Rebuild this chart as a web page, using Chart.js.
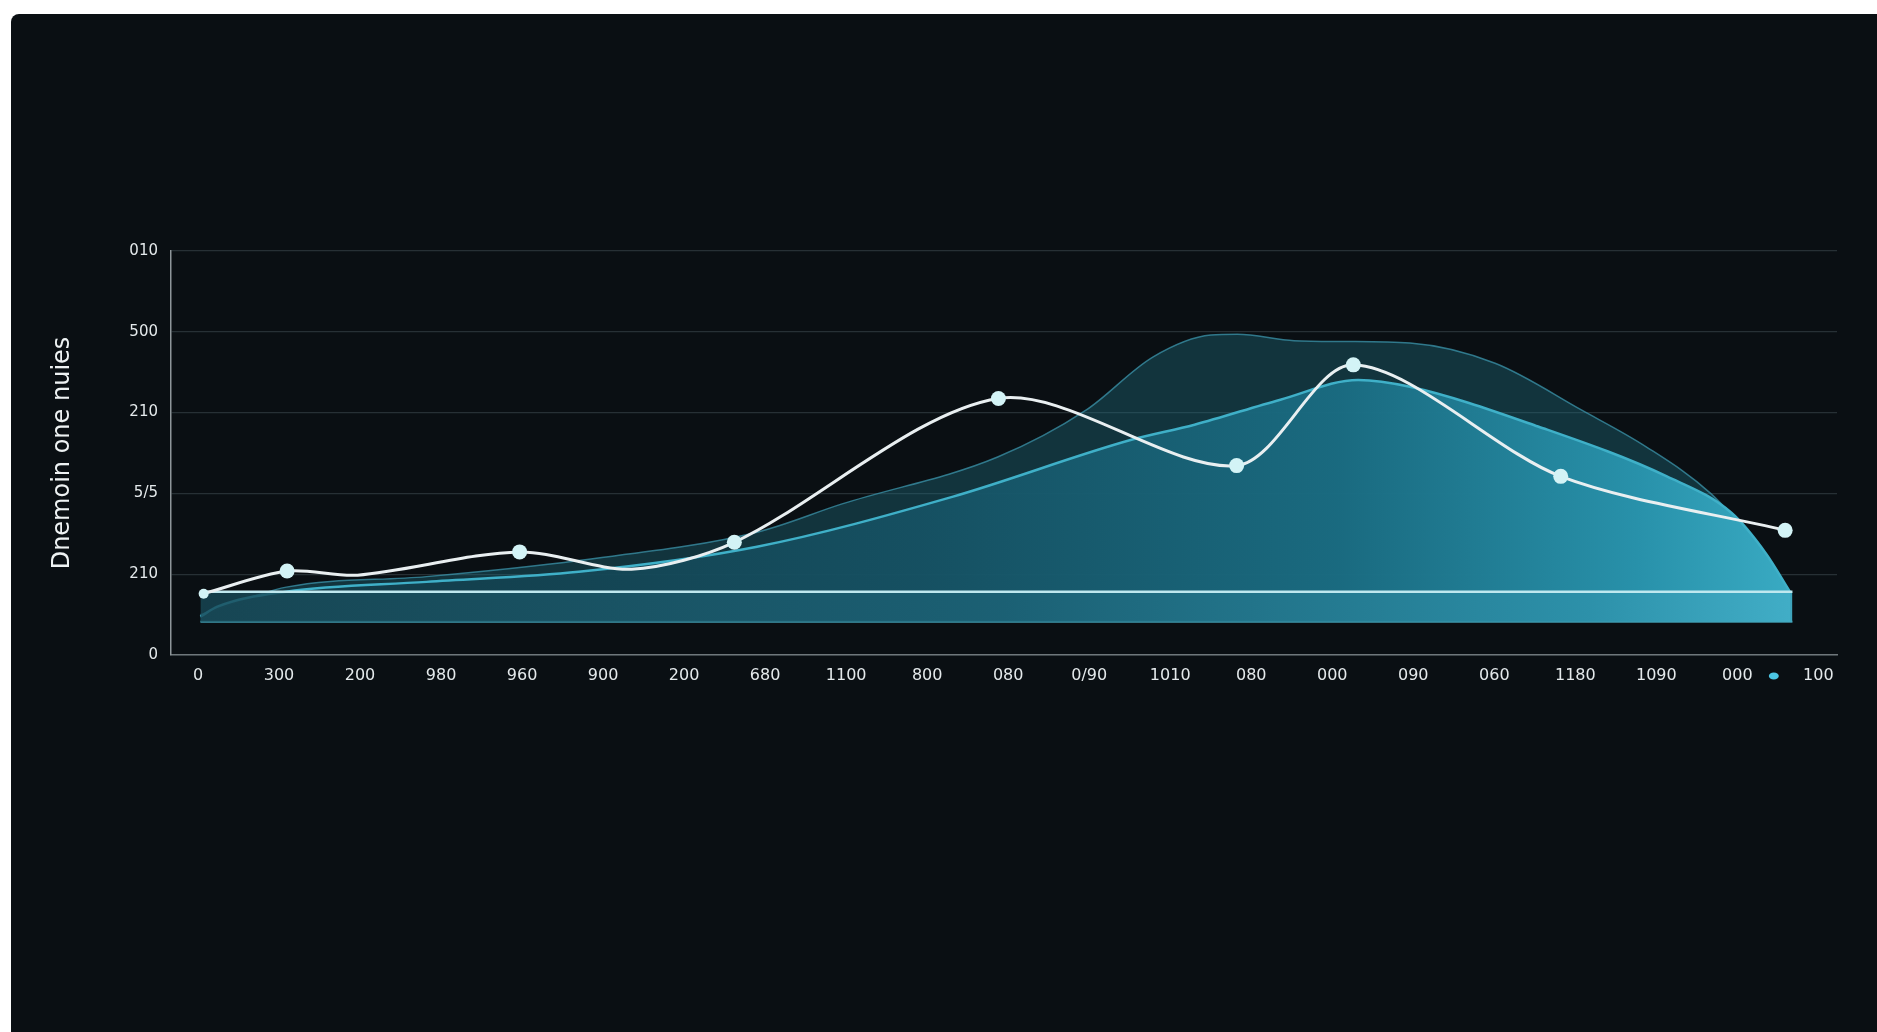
<!DOCTYPE html>
<html>
<head>
<meta charset="utf-8">
<script src="https://cdn.jsdelivr.net/npm/chart.js@4.4.1/dist/chart.umd.min.js"></script>
<style>
  html, body { margin: 0; padding: 0; background: #ffffff; }
  #wrap {
    position: absolute; left: 11px; top: 14px;
    width: 1866px; height: 1018px;
    background: #0a0f13;
    border-top-left-radius: 8px;
  }
</style>
</head>
<body>
<div id="wrap"><canvas id="chart"></canvas></div>
<script>
// tick labels as printed on the picture
var xLabels = ['0', '300', '200', '980', '960', '900', '200', '680', '1100', '800', '080',
               '0/90', '1010', '080', '000', '090', '060', '1180', '1090', '000', '100'];
var yLabels = ['0', '210', '5/5', '210', '500', '010'];
var yTicks = [0, 100, 200, 300, 400, 500];

// white line: points with markers
var markerX = [0.07, 1.10, 3.97, 6.62, 9.88, 12.82, 14.26, 16.82, 19.59];
var markerY = [75.9, 103.9, 127.6, 139.5, 317.5, 234.4, 359.1, 221.1, 154.3];
// white line: bends read between markers (no marker drawn)
var bendX = [1.97, 5.35];
var bendY = [98.8, 106.2];

// bright front area
var frontX = [0.03, 0.24, 1.09, 2.82, 4.70, 6.90, 9.32, 11.51, 12.30, 13.36, 14.32, 14.96, 16.54, 18.13, 18.93, 19.35, 19.65];
var frontY = [47.4, 59.8, 78.3, 90.5, 103, 134, 196, 266, 285, 316, 340.5, 332, 282.8, 221, 175.7, 126, 78.2];

// dim back area
var backX = [0.03, 1.09, 2.82, 4.70, 6.90, 7.95, 9.87, 10.96, 11.79, 12.50, 12.83, 13.53, 14.16, 14.96, 16.01, 17.08, 17.87, 18.67, 19.19, 19.65];
var backY = [50, 84, 97, 117, 152, 187, 245, 303, 369, 396, 397, 389, 388, 386, 361, 303, 258, 200, 142, 78.2];

// base slab
var slabX = [0.03, 19.68];
var slabTop = 78.2;
var slabBottom = 41;

function pts(xs, ys) {
    var out = [];
    for (var i = 0; i < xs.length; i++) {
        out.push({x: xs[i], y: ys[i]});
    }
    return out;
}

var whiteData = pts(markerX, markerY).concat(pts(bendX, bendY));
whiteData.sort(function (a, b) { return a.x - b.x; });

function markerRadius(ctx) {
    var p = whiteData[ctx.dataIndex];
    if (!p) return 0;
    if (bendX.indexOf(p.x) >= 0) return 0;
    if (ctx.dataIndex === 0) return 5;
    return 7.5;
}

function hGradient(ctx, stops) {
    var area = ctx.chart.chartArea;
    if (!area) return stops[0][1];
    var g = ctx.chart.ctx.createLinearGradient(area.left, 0, area.right, 0);
    for (const s of stops) g.addColorStop(s[0], s[1]);
    return g;
}

var font = "'DejaVu Sans', sans-serif";

// small cyan dot next to the last x label
var dotPlugin = {
    id: 'dot',
    afterDraw: function (chart) {
        var x = chart.scales.x;
        var c = chart.ctx;
        var px = x.getPixelForValue(19.45);
        var py = x.top + 21;
        c.save();
        c.fillStyle = '#4cc6e4';
        c.beginPath();
        c.ellipse(px, py, 5, 3.5, 0, 0, Math.PI * 2);
        c.fill();
        c.restore();
    }
};

var ctx = document.getElementById('chart').getContext('2d');
var chart = new Chart(ctx, {
    type: 'line',
    data: {
        datasets: [
            {
                label: 'line',
                data: whiteData,
                order: 0,
                borderColor: '#e9eff1',
                borderWidth: 3,
                tension: 0.3,
                pointRadius: markerRadius,
                pointBackgroundColor: '#d3f3f6',
                pointBorderWidth: 0,
                fill: false
            },
            {
                label: 'slab',
                data: pts(slabX, [slabTop, slabTop]),
                order: 1,
                borderColor: '#bfe8ef',
                borderWidth: 2.5,
                pointRadius: 0,
                fill: {value: slabBottom},
                backgroundColor: function (c) {
                    return hGradient(c, [[0, 'rgba(24,72,86,0.80)'], [0.5, 'rgba(28,98,118,0.85)'], [0.85, 'rgba(45,145,170,0.92)'], [1, 'rgba(70,180,205,0.95)']]);
                }
            },
            {
                label: 'slabBase',
                data: pts(slabX, [slabBottom, slabBottom]),
                order: 1,
                borderColor: 'rgba(70,170,190,0.9)',
                borderWidth: 2,
                pointRadius: 0,
                fill: false
            },
            {
                label: 'front',
                data: pts(frontX, frontY),
                order: 2,
                borderColor: '#3fb0c8',
                borderWidth: 2.5,
                cubicInterpolationMode: 'monotone',
                pointRadius: 0,
                fill: {value: slabBottom},
                backgroundColor: function (c) {
                    return hGradient(c, [[0, 'rgba(18,56,68,0.92)'], [0.45, 'rgba(22,82,100,0.95)'], [0.7, 'rgba(26,108,130,0.97)'], [0.88, 'rgba(40,145,170,1)'], [1, 'rgba(62,178,202,1)']]);
                }
            },
            {
                label: 'back',
                data: pts(backX, backY),
                order: 3,
                borderColor: 'rgba(60,150,172,0.75)',
                borderWidth: 1.5,
                cubicInterpolationMode: 'monotone',
                pointRadius: 0,
                fill: {value: slabBottom},
                backgroundColor: 'rgba(32,112,132,0.38)'
            }
        ]
    },
    options: {
        responsive: true,
        maintainAspectRatio: false,
        animation: false,
        layout: {padding: {left: 35, right: 40, top: 237, bottom: 337}},
        plugins: {
            legend: {display: false},
            tooltip: {enabled: false}
        },
        scales: {
            x: {
                type: 'linear',
                min: -0.333,
                max: 20.23,
                afterBuildTicks: function (s) {
                    s.ticks = xLabels.map(function (_, i) { return {value: i}; });
                },
                afterFit: function (s) { s.height = 40; },
                grid: {display: false, drawTicks: false},
                border: {display: true, color: '#6f777b', width: 1.5},
                ticks: {
                    autoSkip: false,
                    maxRotation: 0,
                    padding: 11,
                    color: '#e4e9eb',
                    font: {family: font, size: 16},
                    callback: function (v) { return xLabels[v]; }
                }
            },
            y: {
                min: 0,
                max: 500,
                afterBuildTicks: function (s) {
                    s.ticks = yTicks.map(function (v) { return {value: v}; });
                },
                afterFit: function (s) { s.width = 125; },
                grid: {color: '#273035', lineWidth: 1.2, drawTicks: false},
                border: {display: true, color: '#8e969a', width: 1.5},
                ticks: {
                    padding: 13,
                    color: '#e4e9eb',
                    font: {family: font, size: 15},
                    callback: function (v) { return yLabels[yTicks.indexOf(v)]; }
                },
                title: {
                    display: true,
                    text: 'Dnemoin one nuies',
                    color: '#eef2f3',
                    font: {family: font, size: 24},
                    padding: {top: 2, bottom: 0}
                }
            }
        }
    },
    plugins: [dotPlugin]
});
</script>
</body>
</html>
